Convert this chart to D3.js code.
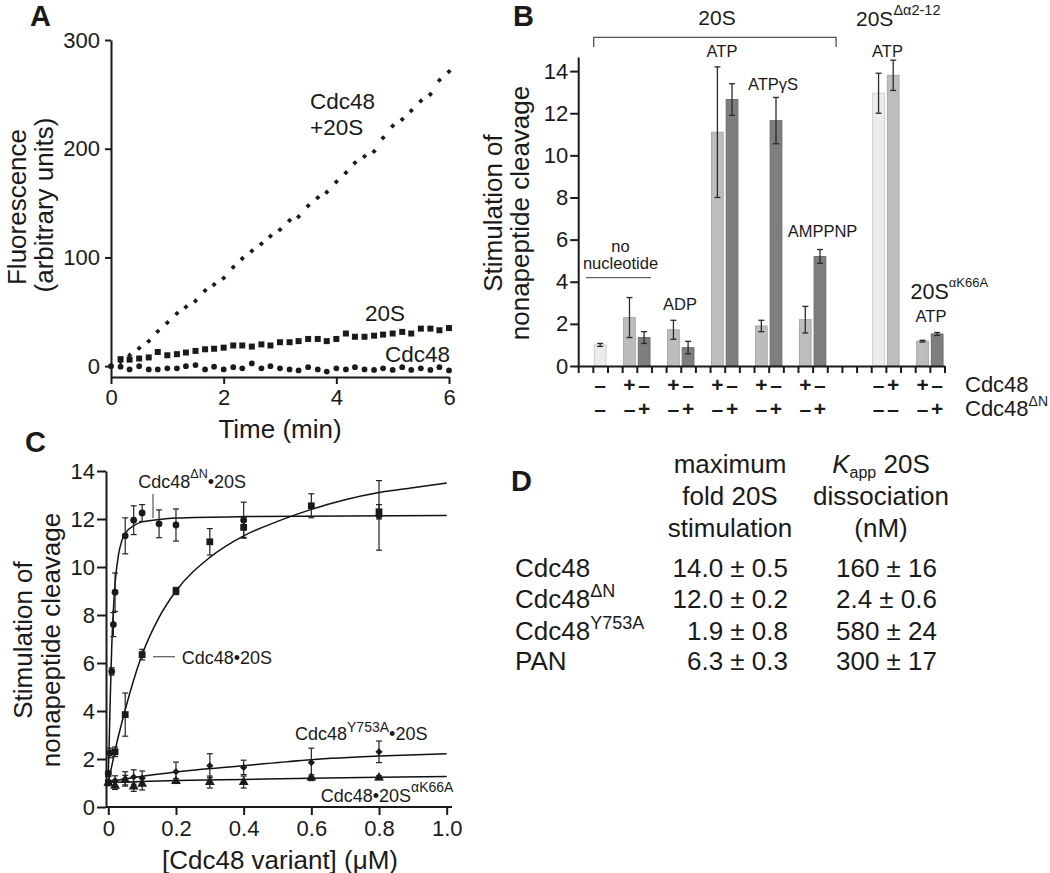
<!DOCTYPE html>
<html><head><meta charset="utf-8">
<script src="https://cdn.jsdelivr.net/npm/d3@7"></script>
<style>
body{margin:0;background:#fff}
text{font-family:"Liberation Sans",Arial,Helvetica,sans-serif;fill:#1a1a1a}
</style>
</head><body>
<svg id="c" width="1050" height="873"></svg>
<script>
// ---------------- DATA ----------------
// Panel A
const aTimes = [0,0.17,0.33,0.5,0.67,0.83,1,1.17,1.33,1.5,1.67,1.83,2,2.17,2.33,2.5,2.67,2.83,3,3.17,3.33,3.5,3.67,3.83,4,4.17,4.33,4.5,4.67,4.83,5,5.17,5.33,5.5,5.67,5.83,6];
const aCdc48_20S = [0,4,10,16.5,23,32,40,48.5,54.5,60,69.5,75,81,91,99,106,112.5,119.5,125.5,134,137.5,147.5,155,160,169.5,178,187,193,197.5,210,221,227,235,244,250,263,271];
const a20S = [6.4,6,7,8,13,10,11,12.5,14,15.5,16,17,19,19,18,20,19,22,22,23,25,25,23,25,30,27,27,28,29,30,31.5,30,34.5,34.5,33,35];
const aCdc48 = [0,-0.5,-3,0,-3,-3,-2,-2,0,1,-3,-0.5,-3,-1,-2,2.5,-2,0,-2,-3,-4,-1,-3,-5,-2,-3,-1,-3,-3.5,-2,-3.5,-1,-3.5,-2,-3.5,-1,-4];
const aXTicks = [0,2,4,6];
const aYTicks = [0,100,200,300];

// Panel B
const bSlots   = [1,3,4,6,7,9,10,12,13,15,16,20,21,23,24];
const bValues  = [1.0,2.3,1.35,1.72,0.87,11.1,12.65,1.9,11.65,2.2,5.2,12.95,13.8,1.18,1.52];
const bErrors  = [0.07,0.95,0.28,0.45,0.3,3.1,0.75,0.27,1.1,0.63,0.33,0.95,0.72,0.04,0.07];
const bCdc48   = ['–','+','–','+','–','+','–','+','–','+','–','–','+','+','–'];
const bCdc48dN = ['–','–','+','–','+','–','+','–','+','–','+','–','–','–','+'];
const bYTicks  = [0,2,4,6,8,10,12,14];

// Panel C
const cDNx   = [0,0.005,0.01,0.015,0.02,0.05,0.075,0.1,0.15,0.2,0.4,0.8];
const cDNy   = [1.4,2.25,5.65,7.6,8.95,11.3,11.95,12.25,11.8,11.75,11.95,12.15];
const cDNe   = [0.1,0.2,0.15,0.5,0.8,0.75,0.6,0.35,0.58,0.67,0.75,1.45];
const cWTx   = [0,0.02,0.05,0.1,0.2,0.3,0.4,0.6,0.8];
const cWTy   = [1.0,2.3,3.85,6.35,9.0,11.05,11.65,12.55,12.3];
const cWTe   = [0.05,0.2,0.9,0.22,0.15,0.55,0.42,0.5,0.3];
const cYAx   = [0,0.02,0.05,0.075,0.1,0.2,0.3,0.4,0.6,0.8];
const cYAy   = [1.37,1.1,1.17,1.25,1.2,1.47,1.72,1.65,1.85,2.3];
const cYAe   = [0.1,0.2,0.3,0.3,0.3,0.4,0.5,0.3,0.6,0.45];
const cKAx   = [0,0.02,0.05,0.075,0.1,0.2,0.3,0.4,0.6,0.8];
const cKAy   = [1.0,0.88,1.12,0.85,0.96,1.08,1.04,1.04,1.22,1.22];
const cKAe   = [0.05,0.15,0.2,0.2,0.25,0.1,0.25,0.25,0.12,0.08];
// fitted curves
const fitWTx = [0,0.02,0.05,0.1,0.15,0.2,0.3,0.4,0.5,0.6,0.7,0.8,0.9,1.0];
const fitWTy = [1.0,2.35,4.05,6.35,7.9,9.0,10.4,11.3,11.9,12.4,12.8,13.1,13.3,13.5];
const fitDNx = [0,0.0025,0.005,0.0075,0.01,0.015,0.02,0.03,0.04,0.05,0.075,0.1,0.15,0.2,0.4,1.0];
const fitDNy = [1.4,2.6,4.1,5.4,6.6,8.2,9.3,10.5,11.1,11.4,11.72,11.88,11.98,12.04,12.1,12.15];
const fitYAx = [0,0.1,0.2,0.4,0.6,0.8,1.0];
const fitYAy = [1.05,1.28,1.46,1.72,1.97,2.12,2.22];
const fitKAx = [0,0.2,0.4,0.6,0.8,1.0];
const fitKAy = [1.02,1.1,1.15,1.2,1.24,1.27];
const cXTicks = [0,0.2,0.4,0.6,0.8,1.0];
const cYTicks = [0,2,4,6,8,10,12,14];

// Panel D
const dRowNames = ['Cdc48','Cdc48','Cdc48','PAN'];
const dRowSup   = ['','ΔN','Y753A',''];
const dMaxFold  = ['14.0 ± 0.5','12.0 ± 0.2','1.9 ± 0.8','6.3 ± 0.3'];
const dKapp     = ['160 ± 16','2.4 ± 0.6','580 ± 24','300 ± 17'];

// ---------------- HELPERS ----------------
const FONT = '"Liberation Sans", Arial, Helvetica, sans-serif';
const svg = d3.select('#c');
const INK = '#1a1a1a';

function rich(sel, x, y, parts, size, anchor) {
  const t = sel.append('text').attr('x', x).attr('y', y)
    .attr('font-size', size).attr('text-anchor', anchor || 'start');
  let cur = 0;
  parts.forEach(p => {
    if (typeof p === 'string') p = {t: p};
    const rise = p.rise || 0;
    const s = t.append('tspan').text(p.t);
    if (rise !== cur) { s.attr('dy', -(rise - cur)); cur = rise; }
    if (p.size) s.attr('font-size', p.size);
    if (p.italic) s.attr('font-style', 'italic');
  });
  return t;
}
function styleAxis(g, size) {
  g.attr('font-size', size).attr('font-family', FONT);
  g.selectAll('path.domain').attr('stroke', INK).attr('stroke-width', 2);
  g.selectAll('.tick line').attr('stroke', INK).attr('stroke-width', 2);
  g.selectAll('.tick text').attr('fill', INK);
}
function vlabel(sel, x, y, txt, size) {
  sel.append('text').attr('transform', `translate(${x},${y}) rotate(-90)`)
    .attr('text-anchor', 'middle').attr('font-size', size).text(txt);
}
function panelLetter(x, y, L) {
  svg.append('text').attr('x', x).attr('y', y).attr('font-size', 29)
    .attr('font-weight', 'bold').text(L);
}

// ---------------- PANEL A ----------------
const xA = d3.scaleLinear().domain([0, 6]).range([111, 449]);
const yA = d3.scaleLinear().domain([-10, 300]).range([377, 40]);
const gA = svg.append('g');
styleAxis(gA.append('g').attr('transform', 'translate(111,0)')
  .call(d3.axisLeft(yA).tickValues(aYTicks).tickFormat(d3.format('d')).tickSize(6).tickSizeOuter(0).tickPadding(5)), 22);
styleAxis(gA.append('g').attr('transform', 'translate(0,377)')
  .call(d3.axisBottom(xA).tickValues(aXTicks).tickFormat(d3.format('d')).tickSize(7).tickSizeOuter(0).tickPadding(5)), 22);

const symDiamond = d3.symbol().type(d3.symbolSquare).size(14)();
const symSquareA = d3.symbol().type(d3.symbolSquare).size(36)();
const symCircleA = d3.symbol().type(d3.symbolCircle).size(26)();
gA.selectAll('.d').data(aCdc48_20S).join('path')
  .attr('d', symDiamond).attr('fill', INK)
  .attr('transform', (d, i) => `translate(${xA(aTimes[i])},${yA(d)}) rotate(45)`);
gA.selectAll('.s').data(a20S).join('path')
  .attr('d', symSquareA).attr('fill', INK)
  .attr('transform', (d, i) => `translate(${xA(aTimes[i + 1])},${yA(d)})`);
gA.selectAll('.c').data(aCdc48).join('path')
  .attr('d', symCircleA).attr('fill', INK)
  .attr('transform', (d, i) => `translate(${xA(aTimes[i])},${yA(d)})`);

gA.append('text').attr('x', 310).attr('y', 109).attr('font-size', 22.5).text('Cdc48');
gA.append('text').attr('x', 310).attr('y', 135).attr('font-size', 22.5).text('+20S');
gA.append('text').attr('x', 365).attr('y', 321).attr('font-size', 22.5).text('20S');
gA.append('text').attr('x', 385).attr('y', 362).attr('font-size', 22.5).text('Cdc48');
gA.append('text').attr('x', 280).attr('y', 438).attr('font-size', 26).attr('text-anchor', 'middle').text('Time (min)');
vlabel(gA, 26, 207, 'Fluorescence', 26);
vlabel(gA, 53, 205, '(arbitrary units)', 26);
panelLetter(30, 26, 'A');

// ---------------- PANEL B ----------------
const bX0 = 578.2, bX1 = 944.5;
const xBt = d3.scaleLinear().domain([0, 25]).range([bX0, bX1]);
const xB = d3.scaleBand().domain(d3.range(25)).range([bX0, bX1]).paddingInner(0.2).paddingOuter(0.1);
const yB = d3.scaleLinear().domain([0, 14.67]).range([366, 57]);
const gB = svg.append('g');

const shade = (i) => bCdc48[i] === '+' ? '#bdbdbd' : (bCdc48dN[i] === '+' ? '#7e7e7e' : '#ececec');
const edge  = (i) => bCdc48[i] === '+' ? '#a9a9a9' : (bCdc48dN[i] === '+' ? '#6c6c6c' : '#cfcfcf');
gB.selectAll('rect.bar').data(bValues).join('rect').attr('class', 'bar')
  .attr('x', (d, i) => xB(bSlots[i])).attr('width', xB.bandwidth())
  .attr('y', d => yB(d)).attr('height', d => yB(0) - yB(d))
  .attr('fill', (d, i) => shade(i)).attr('stroke', (d, i) => edge(i)).attr('stroke-width', 1);

// error bars
const eb = gB.selectAll('g.eb').data(bValues).join('g').attr('class', 'eb')
  .attr('transform', (d, i) => `translate(${xB(bSlots[i]) + xB.bandwidth() / 2},0)`);
eb.append('line').attr('x1', 0).attr('x2', 0)
  .attr('y1', (d, i) => yB(d + bErrors[i])).attr('y2', (d, i) => yB(d - bErrors[i]))
  .attr('stroke', '#2a2a2a').attr('stroke-width', 1.3);
eb.append('line').attr('x1', -3).attr('x2', 3)
  .attr('y1', (d, i) => yB(d + bErrors[i])).attr('y2', (d, i) => yB(d + bErrors[i]))
  .attr('stroke', '#2a2a2a').attr('stroke-width', 1.3);
eb.append('line').attr('x1', -3).attr('x2', 3)
  .attr('y1', (d, i) => yB(d - bErrors[i])).attr('y2', (d, i) => yB(d - bErrors[i]))
  .attr('stroke', '#2a2a2a').attr('stroke-width', 1.3);

styleAxis(gB.append('g').attr('transform', `translate(${bX0},0)`)
  .call(d3.axisLeft(yB).tickValues(bYTicks).tickSize(8).tickSizeOuter(0).tickPadding(2)), 22);
styleAxis(gB.append('g').attr('transform', `translate(0,${yB(0)})`)
  .call(d3.axisBottom(xBt).tickValues(d3.range(26)).tickFormat('').tickSize(7).tickSizeOuter(0)), 22);

// +/- rows
gB.selectAll('text.r1').data(bCdc48).join('text').attr('class', 'r1')
  .attr('x', (d, i) => xB(bSlots[i]) + xB.bandwidth() / 2).attr('y', 392)
  .attr('text-anchor', 'middle').attr('font-weight', 'bold').attr('font-size', 21).text(d => d);
gB.selectAll('text.r2').data(bCdc48dN).join('text').attr('class', 'r2')
  .attr('x', (d, i) => xB(bSlots[i]) + xB.bandwidth() / 2).attr('y', 416)
  .attr('text-anchor', 'middle').attr('font-weight', 'bold').attr('font-size', 21).text(d => d);
gB.append('text').attr('x', 965).attr('y', 392).attr('font-size', 22).text('Cdc48');
rich(gB, 965, 416, ['Cdc48', {t: 'ΔN', rise: 10, size: 14}], 22);

// annotations
gB.append('text').attr('x', 717).attr('y', 25).attr('font-size', 21).attr('text-anchor', 'middle').text('20S');
gB.append('path').attr('d', 'M593.7,47V37.3H836.1V47').attr('fill', 'none').attr('stroke', '#555').attr('stroke-width', 1.3);
rich(gB, 856, 25.5, ['20S', {t: 'Δα2-12', rise: 10.5, size: 14.5}], 21);
const ann = [['ATP', 722, 57], ['ATPγS', 773, 90], ['AMPPNP', 822.5, 236.5], ['no', 620.5, 252], ['nucleotide', 620.5, 269], ['ADP', 680, 310], ['ATP', 887.5, 57], ['ATP', 931, 321.5]];
ann.forEach(a => gB.append('text').attr('x', a[1]).attr('y', a[2]).attr('font-size', 16.5).attr('text-anchor', 'middle').text(a[0]));
gB.append('line').attr('x1', 586).attr('x2', 651).attr('y1', 277.7).attr('y2', 277.7).attr('stroke', '#666').attr('stroke-width', 1.3);
rich(gB, 910.5, 298.5, ['20S', {t: 'αK66A', rise: 12, size: 13}], 21.5);

vlabel(gB, 502, 213, 'Stimulation of', 26);
vlabel(gB, 529, 213, 'nonapeptide cleavage', 26);
panelLetter(513, 26, 'B');

// ---------------- PANEL C ----------------
const xC = d3.scaleLinear().domain([0, 1]).range([108.3, 446.7]);
const yC = d3.scaleLinear().domain([0, 14]).range([807, 471]);
const gC = svg.append('g');
styleAxis(gC.append('g').attr('transform', 'translate(106,0)')
  .call(d3.axisLeft(yC).tickValues(cYTicks).tickSize(9).tickSizeOuter(0).tickPadding(2)), 22);
const gCx = gC.append('g').attr('transform', 'translate(0,807)')
  .call(d3.axisBottom(xC).tickValues(cXTicks).tickFormat(d => d === 0 ? '0' : d3.format('.1f')(d)).tickSize(8).tickSizeOuter(0).tickPadding(5));
styleAxis(gCx, 22);
gCx.select('path.domain').attr('d', 'M106,0H452');

const line = d3.line().x(d => xC(d[0])).y(d => yC(d[1])).curve(d3.curveMonotoneX);
[[fitWTx, fitWTy], [fitDNx, fitDNy], [fitYAx, fitYAy], [fitKAx, fitKAy]].forEach(([xs, ys]) => {
  gC.append('path').attr('d', line(xs.map((x, i) => [x, ys[i]])))
    .attr('fill', 'none').attr('stroke', '#111').attr('stroke-width', 1.5);
});

function errBars(xs, ys, es) {
  const g = gC.append('g');
  xs.forEach((x, i) => {
    const cx = xC(x), t = yC(ys[i] + es[i]), b = yC(ys[i] - es[i]);
    g.append('line').attr('x1', cx).attr('x2', cx).attr('y1', t).attr('y2', b);
    g.append('line').attr('x1', cx - 3).attr('x2', cx + 3).attr('y1', t).attr('y2', t);
    g.append('line').attr('x1', cx - 3).attr('x2', cx + 3).attr('y1', b).attr('y2', b);
  });
  g.selectAll('line').attr('stroke', '#222').attr('stroke-width', 1.2);
}
function markers(xs, ys, sym, rot) {
  gC.append('g').selectAll('path').data(ys).join('path').attr('d', sym).attr('fill', INK)
    .attr('transform', (d, i) => `translate(${xC(xs[i])},${yC(d)})${rot ? ' rotate(45)' : ''}`);
}
errBars(cKAx, cKAy, cKAe); errBars(cYAx, cYAy, cYAe); errBars(cWTx, cWTy, cWTe); errBars(cDNx, cDNy, cDNe);
markers(cKAx, cKAy, d3.symbol().type(d3.symbolTriangle).size(42)());
markers(cYAx, cYAy, d3.symbol().type(d3.symbolSquare).size(26)(), true);
markers(cWTx, cWTy, d3.symbol().type(d3.symbolSquare).size(46)());
markers(cDNx, cDNy, d3.symbol().type(d3.symbolCircle).size(36)());

rich(gC, 138.3, 487.5, ['Cdc48', {t: 'ΔN', rise: 10, size: 12.5}, {t: '•20S', rise: 0}], 18);
gC.append('line').attr('x1', 153).attr('x2', 153).attr('y1', 494).attr('y2', 518).attr('stroke', '#555').attr('stroke-width', 1.2);
gC.append('text').attr('x', 181.7).attr('y', 663.5).attr('font-size', 18).text('Cdc48•20S');
gC.append('line').attr('x1', 153).attr('x2', 175).attr('y1', 656.7).attr('y2', 656.7).attr('stroke', '#555').attr('stroke-width', 1.2);
rich(gC, 295, 739.5, ['Cdc48', {t: 'Y753A', rise: 8, size: 14}, {t: '•20S', rise: 0}], 18);
rich(gC, 320.7, 801.7, ['Cdc48•20S', {t: 'αK66A', rise: 10, size: 14}], 18);

gC.append('text').attr('x', 280).attr('y', 868.5).attr('font-size', 26).attr('text-anchor', 'middle').text('[Cdc48 variant] (μM)');
vlabel(gC, 32, 640, 'Stimulation of', 26);
vlabel(gC, 60, 640, 'nonapeptide cleavage', 26);
panelLetter(25, 452, 'C');

// ---------------- PANEL D ----------------
const gD = svg.append('g');
panelLetter(511, 491, 'D');
[['maximum', 473.3], ['fold 20S', 505], ['stimulation', 536.7]].forEach(h =>
  gD.append('text').attr('x', 730).attr('y', h[1]).attr('font-size', 26).attr('text-anchor', 'middle').text(h[0]));
rich(gD, 881, 473.3, [{t: 'K', italic: true}, {t: 'app', rise: -5, size: 16}, {t: ' 20S', rise: 0}], 26, 'middle');
gD.append('text').attr('x', 881).attr('y', 505).attr('font-size', 26).attr('text-anchor', 'middle').text('dissociation');
gD.append('text').attr('x', 881).attr('y', 536.7).attr('font-size', 26).attr('text-anchor', 'middle').text('(nM)');
const dRowY = [576.7, 608.3, 640, 670];
dRowNames.forEach((n, i) => {
  const parts = [n];
  if (dRowSup[i]) parts.push({t: dRowSup[i], rise: 11, size: 18});
  rich(gD, 515, dRowY[i], parts, 26);
  gD.append('text').attr('x', 788).attr('y', dRowY[i]).attr('font-size', 26).attr('text-anchor', 'end').text(dMaxFold[i]);
  gD.append('text').attr('x', 937).attr('y', dRowY[i]).attr('font-size', 26).attr('text-anchor', 'end').text(dKapp[i]);
});
</script>
</body></html>
